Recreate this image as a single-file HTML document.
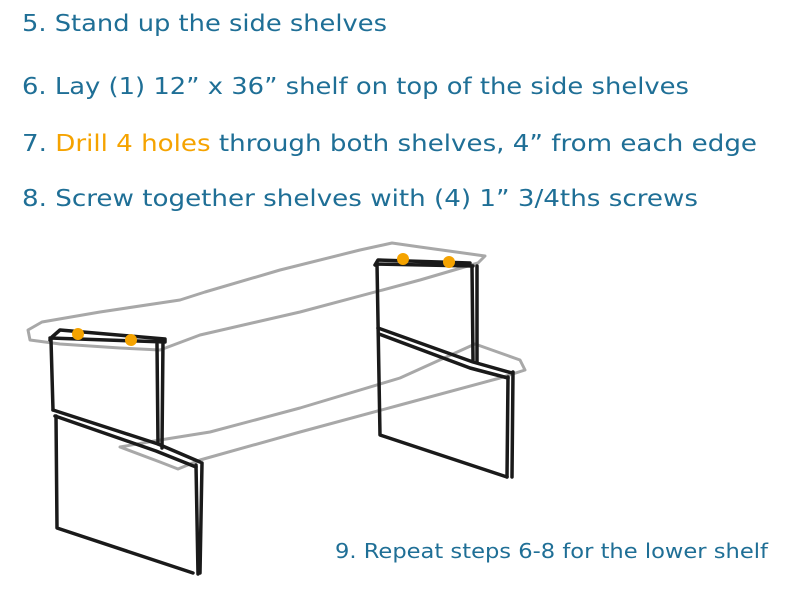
<!DOCTYPE html>
<html><head><meta charset="utf-8"><style>
html,body{margin:0;padding:0;background:#fff;width:800px;height:600px;overflow:hidden}
svg{display:block}
text{font-family:"DejaVu Sans","Liberation Sans",sans-serif;fill:#1f6f96}
</style></head><body>
<svg width="800" height="600" viewBox="0 0 800 600">
<text x="22" y="31" font-size="23" textLength="365" lengthAdjust="spacingAndGlyphs">5. Stand up the side shelves</text>
<text x="22" y="94" font-size="23" textLength="667" lengthAdjust="spacingAndGlyphs">6. Lay (1) 12” x 36” shelf on top of the side shelves</text>
<text x="22" y="151" font-size="23" textLength="735" lengthAdjust="spacingAndGlyphs">7. <tspan style="fill:#f5a300">Drill 4 holes</tspan> through both shelves, 4” from each edge</text>
<text x="22" y="206" font-size="23" textLength="676" lengthAdjust="spacingAndGlyphs">8. Screw together shelves with (4)  1” 3/4ths screws</text>
<text x="335" y="558" font-size="20" textLength="433" lengthAdjust="spacingAndGlyphs">9. Repeat steps 6-8 for the lower shelf</text>

<g fill="none" stroke="#a8a8a8" stroke-width="3" stroke-linejoin="round">
<path d="M30,340 L28,330 L42,322 L100,312 L180,300 L205,292 L280,270 L360,250 L392,243 L420,247 L485,256 L478,263 L420,280 L300,312 L200,335 L160,350 L120,348 L60,344 Z"/>
</g>
<g fill="none" stroke="#a8a8a8" stroke-width="3" stroke-linejoin="round">
<path d="M120,447 L160,440 L210,432 L300,408 L400,378 L475,344 L520,360 L525,370 L500,378 L400,405 L300,432 L200,460 L178,469 L160,462 Z"/>
</g>

<g fill="none" stroke="#1a1a1a" stroke-width="3.5" stroke-linejoin="round" stroke-linecap="round">
<path d="M50,340 L52,337 L60,330 L165,339 L165,342 M50,338 L165,342"/>
<path d="M51,340 L53,410 M157,344 L158,444 M163,340 L162,448"/>
<path d="M53,410 L158,444 L200,462 M55,416 L156,451 L196,467"/>
<path d="M56,416 L57,528 L193,573 M196,465 L198,574 M202,463 L200,573"/>
</g>
<g fill="none" stroke="#1a1a1a" stroke-width="3.5" stroke-linejoin="round" stroke-linecap="round">
<path d="M375,265 L378,260 L470,263 M376,264 L473,266"/>
<path d="M377,264 L380,435 L507,477 M472,266 L473,360 M477,266 L477,362"/>
<path d="M378,328 L473,362 L512,373 M379,334 L470,368 L508,378"/>
<path d="M508,377 L507,477 M513,372 L512,477"/>
</g>

<g fill="#f5a300">
<circle cx="78" cy="334" r="6"/>
<circle cx="131" cy="340" r="6"/>
<circle cx="403" cy="259" r="6"/>
<circle cx="449" cy="262" r="6"/>
</g>
</svg>
</body></html>
